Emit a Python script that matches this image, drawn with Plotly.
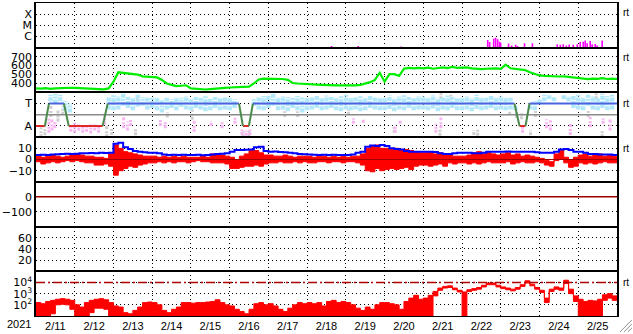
import pandas as pd
import plotly.graph_objects as go
from plotly.subplots import make_subplots

START = pd.Timestamp("2021-02-11")
END = pd.Timestamp("2021-02-26")

# ---------------- data (3-hour samples from 2021-02-11 00:00) ----------------
speed = [345, 342, 348, 340, 345, 350, 347, 352,
         350, 348, 345, 340, 338, 332, 335, 345,
         420, 525, 520, 515, 505, 500, 480, 475,
         470, 468, 440, 400, 385, 370, 375, 380,
         345, 340, 335, 333, 338, 340, 345, 350,
         355, 358, 360, 362, 365, 400, 445, 455,
         455, 450, 455, 450, 440, 405, 400, 395,
         395, 392, 388, 385, 380, 378, 378, 380,
         378, 380, 378, 385, 400, 415, 440, 520,
         420, 505, 505, 485, 565, 575, 570, 575,
         570, 578, 565, 575, 580, 572, 585, 575,
         575, 580, 570, 565, 560, 565, 568, 570,
         563, 610, 570, 565, 562, 550, 525, 508,
         490, 485, 480, 482, 478, 480, 475, 470,
         465, 458, 448, 455, 452, 460, 450, 455, 450]

bt = [4.0, 4.2, 4.0, 4.5, 4.8, 5.0, 5.2, 5.0,
      5.2, 5.5, 5.5, 5.8, 5.5, 6.0, 5.8, 6.0,
      14, 15, 11, 9.5, 7.5, 7, 6.5, 6,
      6, 5.5, 4.5, 4, 4.2, 4, 4.3, 4,
      4, 4.2, 3.8, 4, 4.5, 5, 5.2, 5.5,
      7, 8.4, 8.5, 8.8, 9, 11, 11.4, 7.5,
      7, 7.2, 6.8, 6.5, 6, 5.5, 5, 4.8,
      4.5, 4.2, 4, 4.3, 4, 4.2, 4, 4.1,
      4, 4.5, 6, 7, 11.5, 12.5, 12, 13,
      12, 10, 9.5, 9, 7.5, 7, 7, 7,
      7, 7, 6.8, 5.5, 5, 5, 5.5, 6,
      6, 6, 5.5, 5.5, 6, 7, 7, 7,
      7, 7.2, 7, 7, 7, 7, 7, 6.5,
      6, 6, 6, 7, 9, 9.3, 8.5, 7,
      7, 6, 5, 5, 4.5, 4.5, 4.5, 4, 4]

bz_hi = [3, 2, 3, 4, 3, 2, 3, 4,
         5, 4, 3, 3, 2, 2, 1, 5,
         13, 10, 7, 6, 5, 4, 3, 3,
         3, 2, 3, 2, 3, 2, 3, 2,
         2, 2, 3, 2, 5, 5, 4, 3,
         2, 0, 3, 5, 8, 8, 6, 4,
         4, 3, 3, 4, 3, 2, 3, 3,
         3, 2, 3, 3, 2, 3, 2, 3,
         2, 3, 3, 5, 10, 12, 13, 10,
         10, 9, 10, 8, 9, 8, 7, 6,
         6, 7, 5, 6, 5, 4, 3, 3,
         3, 4, 6, 7, 5, 6, 5, 4,
         5, 6, 4, 5, 3, 4, 3, 2,
         1, -1, -2, 5, 8, 2, 0, 2,
         4, 5, 3, 4, 5, 3, 4, 3]
bz_lo = [-2, -4, -3, -2, -3, -2, -1, -2,
         -1, -2, -3, -3, -5, -5, -4, -6,
         -14, -10, -8, -6, -7, -5, -4, -3,
         -3, -2, -3, -2, -3, -2, -2, -3,
         -2, -1, -2, -2, -3, -3, -3, -4,
         -8, -8, -7, -6, -6, -5, -6, -4,
         -3, -3, -2, -3, -3, -2, -3, -2,
         -3, -3, -2, -2, -3, -2, -2, -3,
         -2, -2, -3, -5, -10, -11, -8, -10,
         -9, -8, -9, -8, -7, -9, -6, -5,
         -5, -6, -5, -4, -6, -3, -4, -3,
         -3, -4, -3, -4, -3, -2, -3, -3,
         -3, -2, -4, -3, -2, -3, -3, -2,
         -3, -5, -6, -1, 0, -3, -7, -6,
         -3, -4, -3, -4, -3, -2, -3, -3]

# electron flux, log10 upper / lower envelope per 3 h
e_hi_log = [2.2, 2.1, 2.3, 2.4, 2.5, 2.55, 2.5, 2.4,
            2.0, 1.8, 2.2, 2.4, 2.5, 2.55, 2.45, 2.2,
            1.9, 1.8, 1.3, 1.2, 1.5, 1.8, 2.2, 2.25,
            2.2, 2.0, 1.5, 1.3, 1.6, 1.8, 2.2, 2.2,
            2.15, 2.2, 2.2, 2.25, 2.3, 2.45, 2.2, 2.0,
            1.9, 1.6, 1.4, 1.2, 1.6, 2.1, 2.2, 2.0,
            2.1, 1.9, 1.6, 1.4, 1.7, 2.0, 2.2, 2.1,
            2.2, 2.1, 2.2, 1.9, 2.3, 2.4, 2.2, 2.3,
            2.2, 2.0, 1.7, 1.5, 1.8, 1.6, 2.0, 2.2,
            2.2, 2.1, 2.0, 1.6, 2.3, 2.6, 2.85, 2.5,
            2.6, 2.85, 3.2, 3.5, 3.65, 3.7, 3.5, 3.3,
            3.15, 3.35, 3.45, 3.55, 3.75, 3.95, 3.95, 3.75,
            3.6, 3.5, 3.4, 3.55, 3.8, 4.15, 3.85, 3.55,
            3.3, 2.6, 3.4, 3.6, 3.5, 4.2, 3.4, 2.8,
            2.5, 2.3, 2.4, 2.35, 2.5, 2.9, 3.0, 2.8]
e_lo_log = [0.5, 0.5, 0.5, 1.2, 2.0, 2.05, 2.0, 1.6,
            0.5, 0.5, 0.5, 1.3, 1.7, 1.7, 1.6, 0.5,
            0.5, 0.5, 0.5, 0.5, 0.5, 0.5, 0.5, 0.5,
            0.5, 0.5, 0.5, 0.5, 0.5, 0.5, 0.5, 0.5,
            0.5, 0.5, 0.5, 0.5, 0.5, 0.5, 0.5, 0.5,
            0.5, 0.5, 0.5, 0.5, 0.5, 0.5, 0.5, 0.5,
            0.5, 0.5, 0.5, 0.5, 0.5, 0.5, 0.5, 0.5,
            0.5, 0.5, 0.5, 0.5, 0.5, 0.5, 0.5, 0.5,
            0.5, 0.5, 0.5, 0.5, 0.5, 0.5, 0.5, 0.5,
            0.5, 0.5, 0.5, 0.5, 0.5, 0.5, 0.5, 0.5,
            0.5, 0.5, 2.8, 3.3, 3.5, 3.55, 3.35, 3.15,
            0.5, 3.2, 3.3, 3.4, 3.6, 3.8, 3.8, 3.6,
            3.45, 3.35, 3.25, 3.4, 3.65, 3.95, 3.7, 3.4,
            3.1, 2.2, 3.2, 3.4, 3.3, 3.9, 3.0, 2.3,
            0.5, 0.5, 0.5, 0.5, 0.5, 2.4, 2.6, 2.4]

# IMF azimuth scatter (light blue: toward-side samples), range per 3 h
N = None
lb_lo = [N, N, N, 0.8, 0.75, 0.8, 0.6, 0.55,
         N, N, N, N, N, N, N, 0.62,
         0.6, 0.62, 0.7, 0.65, 0.6, 0.68, 0.7, 0.62,
         0.65, 0.6, 0.55, 0.62, 0.65, 0.6, 0.68, 0.62,
         0.6, 0.65, 0.62, 0.58, 0.6, 0.65, 0.6, 0.62,
         0.6, 0.65, N, N, N, 0.7, 0.62, 0.6,
         0.65, 0.7, 0.6, 0.62, 0.58, 0.65, 0.6, 0.55,
         0.6, 0.62, 0.65, 0.6, 0.62, 0.65, 0.6, 0.58,
         0.62, 0.6, 0.62, 0.58, 0.6, 0.65, 0.62, 0.6,
         0.6, 0.63, 0.58, 0.62, 0.6, 0.65, 0.6, 0.62,
         0.62, 0.6, 0.64, 0.58, 0.62, 0.6, 0.65, 0.6,
         0.6, 0.62, 0.58, 0.63, 0.6, 0.62, 0.65, 0.6,
         0.62, 0.6, 0.62, 0.6, N, N, 0.62, 0.6,
         0.75, 0.8, 0.85, 0.8, N, 0.85, 0.8, 0.65,
         0.62, 0.6, 0.7, 0.62, 0.6, 0.65, 0.6, 0.62]
lb_hi = [N, N, N, 0.95, 0.97, 0.95, 0.8, 0.75,
         N, N, N, N, N, N, N, 0.9,
         0.95, 0.92, 0.97, 0.9, 0.88, 0.95, 0.9, 0.88,
         0.88, 0.9, 0.85, 0.88, 0.85, 0.9, 0.88, 0.92,
         0.85, 0.9, 0.88, 0.92, 0.86, 0.9, 0.88, 0.9,
         0.9, 0.85, N, N, N, 0.85, 0.9, 0.92,
         0.95, 0.97, 0.9, 0.92, 0.9, 0.88, 0.92, 0.9,
         0.88, 0.9, 0.92, 0.88, 0.93, 0.9, 0.88, 0.92,
         0.95, 0.88, 0.9, 0.92, 0.88, 0.92, 0.9, 0.88,
         0.9, 0.93, 0.88, 0.92, 0.95, 0.9, 0.88, 0.92,
         0.92, 0.9, 0.95, 0.88, 0.9, 0.93, 0.9, 0.88,
         0.9, 0.92, 0.88, 0.95, 0.9, 0.88, 0.92, 0.9,
         0.92, 0.9, 0.88, 0.72, N, N, 0.75, 0.8,
         0.85, 0.95, 0.95, 0.9, N, 0.95, 0.92, 0.95,
         0.95, 0.9, 0.95, 0.92, 0.9, 0.97, 0.92, 0.95]

# pink / grey scatter clusters: hour since start, low, high
pink_h = [8.0, 9.9, 11.7, 21.6, 24.0, 26.5, 29.0, 31.4, 33.9, 36.4, 38.8, 42.5,
          54.3, 56.7, 58.6, 77.1, 80.1, 98.0, 108.5, 115.3, 123.3, 127.6, 130.1, 132.5,
          196.7, 202.8, 222.6, 225.6, 247.8, 250.9, 301.5, 316.3, 318.7, 331.1, 343.4,
          351.4, 355.7]
pink_lo = [0.1, 0.15, 0.2, 0.12, 0.1, 0.15, 0.1, 0.12, 0.08, 0.15, 0.1, 0.28,
           0.2, 0.15, 0.25, 0.25, 0.2, 0.12, 0.25, 0.2, 0.3, 0.05, 0.03, 0.05,
           0.3, 0.32, 0.1, 0.3, 0.1, 0.2, 0.1, 0.2, 0.15, 0.05, 0.22, 0.3, 0.15]
pink_hi = [0.45, 0.4, 0.35, 0.3, 0.32, 0.28, 0.25, 0.3, 0.28, 0.3, 0.25, 0.54,
           0.45, 0.35, 0.4, 0.42, 0.35, 0.38, 0.35, 0.38, 0.45, 0.17, 0.15, 0.17,
           0.42, 0.4, 0.28, 0.38, 0.3, 0.44, 0.24, 0.4, 0.38, 0.3, 0.45, 0.42, 0.4]

grey_h = [3.1, 5.5, 9.2, 13.6, 16.6, 43.8, 46.9, 61.7, 62.9, 81.4, 96.8, 128.2,
          131.9, 154.1, 162.1, 193.6, 221.9, 250.9, 257.1, 250.3, 271.3, 273.7,
          293.5, 297.8, 300.9, 306.4, 309.5, 342.2, 347.1, 350.8]
grey_lo = [0.0, 0.04, 0.45, 0.35, 0.5, 0.0, 0.05, 0.04, 0.8, 0.44, 0.39, 0.0,
           0.02, 0.45, 0.45, 0.5, 0.1, 0.85, 0.82, 0.03, 0.05, 0.03,
           0.5, 0.43, 0.4, 0.04, 0.45, 0.45, 0.85, 0.0]
grey_hi = [0.22, 0.27, 0.7, 0.62, 0.7, 0.27, 0.2, 0.2, 0.9, 0.55, 0.61, 0.16,
           0.14, 0.58, 0.58, 0.62, 0.27, 0.98, 0.95, 0.18, 0.15, 0.2,
           0.58, 0.6, 0.55, 0.15, 0.6, 0.6, 0.98, 0.15]

# IMF sector polarity (hours since start)
sector_h = [0, 5.5, 8.0, 17.3, 20.3, 41.3, 44.4, 125.8, 128.2, 131.9, 134.4,
            296.5, 299.6, 303.3, 305.8, 360]
sector_pol = ["A", "A", "T", "T", "A", "A", "T", "T", "A", "A", "T", "T",
              "A", "A", "T", "T"]

# X-ray flux events (hour since start, W/m2)
xr_h = [183.1, 199.7, 226.3, 279.9, 281.1, 283.6, 284.8, 286.1, 287.3, 287.9,
        292.8, 294.7, 297.2, 298.4, 302.7, 307.6, 323.0, 324.9, 326.7, 328.6,
        330.4, 332.9, 335.4, 337.2, 339.1, 340.3, 341.5, 343.4, 344.6, 346.5,
        347.7, 350.8]
xr_flux = [1.4e-7, 1.4e-7, 1.26e-7, 5.0e-7, 3.2e-7, 6.3e-7, 7.9e-7, 5.6e-7,
           3.5e-7, 2.8e-7, 2.4e-7, 1.6e-7, 1.8e-7, 1.4e-7, 2.5e-7, 2.5e-7,
           2.0e-7, 1.8e-7, 2.0e-7, 1.6e-7, 1.9e-7, 1.8e-7, 2.0e-7, 3.2e-7,
           3.5e-7, 4.5e-7, 2.5e-7, 4.0e-7, 2.0e-7, 2.2e-7, 1.6e-7, 4.5e-7]

# ---------------- helpers ----------------
t3 = list(pd.date_range(START, periods=121, freq="3h"))


def hrs(h):
    return START + pd.Timedelta(hours=h)


def vsegs(times, lo, hi):
    xs, ys = [], []
    for t, a, b in zip(times, lo, hi):
        if a is None or b is None:
            continue
        xs += [t, t, None]
        ys += [a, b, None]
    return xs, ys


fig = make_subplots(rows=7, cols=1, shared_xaxes=True, vertical_spacing=0)

# Panel 1: X-ray
xs, ys = vsegs([hrs(h) for h in xr_h], [1e-7] * len(xr_h), xr_flux)
fig.add_trace(go.Scatter(x=xs, y=ys, mode="lines", line=dict(color="#ff00ff", width=1.6)),
              row=1, col=1)

# Panel 2: speed
fig.add_trace(go.Scatter(x=t3, y=speed, mode="lines", line=dict(color="#00ee00", width=2.2)),
              row=2, col=1)

# Panel 3: IMF sector
xs, ys = vsegs([hrs(h) for h in grey_h], grey_lo, grey_hi)
fig.add_trace(go.Scatter(x=xs, y=ys, mode="lines",
                         line=dict(color="#cfcfcf", width=3, dash="3px,1px,2px,2px")), row=3, col=1)
xs, ys = vsegs([hrs(h) for h in pink_h], pink_lo, pink_hi)
fig.add_trace(go.Scatter(x=xs, y=ys, mode="lines",
                         line=dict(color="#f7b6f2", width=3, dash="3px,1px,2px,2px")), row=3, col=1)
xs, ys = vsegs(t3[:120], lb_lo, lb_hi)
fig.add_trace(go.Scatter(x=xs, y=ys, mode="lines",
                         line=dict(color="#b3e8fa", width=4.5, dash="4px,1px,2px,1px")), row=3, col=1)
fig.add_trace(go.Scatter(x=[START, END], y=[0.5, 0.5], mode="lines",
                         line=dict(color="#8a8a8a", width=1.5)), row=3, col=1)
lvl = {"T": 0.75, "A": 0.25}
seg = {"#4a64e0": ([], []), "#e02828": ([], []), "#4a8a4a": ([], [])}
for i in range(len(sector_h) - 1):
    a, b = sector_pol[i], sector_pol[i + 1]
    c = "#4a64e0" if a == b == "T" else ("#e02828" if a == b == "A" else "#4a8a4a")
    seg[c][0].extend([hrs(sector_h[i]), hrs(sector_h[i + 1]), None])
    seg[c][1].extend([lvl[a], lvl[b], None])
for c, (sx, sy) in seg.items():
    fig.add_trace(go.Scatter(x=sx, y=sy, mode="lines", line=dict(color=c, width=2)), row=3, col=1)

# Panel 4: Bz (red band) / Bt (blue)
bx = t3[:120] + [END]
fig.add_trace(go.Scatter(x=bx, y=bz_lo + [bz_lo[-1]], mode="lines",
                         line=dict(color="#ff0000", width=1, shape="hv")), row=4, col=1)
fig.add_trace(go.Scatter(x=bx, y=bz_hi + [bz_hi[-1]], mode="lines", fill="tonexty",
                         fillcolor="#ff0000", line=dict(color="#ff0000", width=1, shape="hv")),
              row=4, col=1)
fig.add_trace(go.Scatter(x=t3, y=bt, mode="lines", line=dict(color="#0000ff", width=2, shape="hv")),
              row=4, col=1)
fig.add_trace(go.Scatter(x=[START, END], y=[0, 0], mode="lines",
                         line=dict(color="#a00000", width=1)), row=4, col=1)

# Panel 5: reference zero line
fig.add_trace(go.Scatter(x=[START, END], y=[0, 0], mode="lines",
                         line=dict(color="#a00000", width=1.5)), row=5, col=1)

# Panel 6: empty (axis holder)
fig.add_trace(go.Scatter(x=[START, END], y=[None, None], mode="lines",
                         line=dict(color="rgba(0,0,0,0)")), row=6, col=1)

# Panel 7: electron flux
ex = t3[:120] + [END]
elo = [10 ** v for v in e_lo_log] + [10 ** e_lo_log[-1]]
ehi = [10 ** v for v in e_hi_log] + [10 ** e_hi_log[-1]]
fig.add_trace(go.Scatter(x=ex, y=elo, mode="lines", line=dict(color="#ff0000", width=1, shape="hv")),
              row=7, col=1)
fig.add_trace(go.Scatter(x=ex, y=ehi, mode="lines", fill="tonexty", fillcolor="#ff0000",
                         line=dict(color="#ff0000", width=1, shape="hv")), row=7, col=1)
fig.add_trace(go.Scatter(x=[START, END], y=[1e4, 1e4], mode="lines",
                         line=dict(color="#b00000", width=1.5, dash="9px,3px,2px,3px")), row=7, col=1)

# ---------------- axes ----------------
GRID = dict(showgrid=True, gridcolor="black", gridwidth=1, griddash="1px,3px")
FONT = dict(family="Liberation Sans, Arial, sans-serif", size=12, color="black")
YFONT = dict(family="DejaVu Sans, sans-serif", size=11, color="black")
for r in range(1, 8):
    fig.update_xaxes(row=r, col=1, type="date", range=[START, END], dtick=86400000, tick0=START,
                     ticklabelmode="period", tickformat="%-m/%d", ticks="", zeroline=False,
                     showline=True, linecolor="black", linewidth=1, mirror=True,
                     showticklabels=(r == 7), tickfont=dict(FONT, size=11), **GRID)

ycfg = {
    1: dict(type="log", range=[-7, -3], tickvals=[1e-6, 1e-5, 1e-4], ticktext=["C", "M", "X"]),
    2: dict(range=[300, 800], tickvals=[400, 500, 600, 700]),
    3: dict(range=[0, 1], tickvals=[0.25, 0.75], ticktext=["A", "T"]),
    4: dict(range=[-20, 20], tickvals=[-10, 0, 10]),
    5: dict(range=[-200, 100], tickvals=[-100, 0]),
    6: dict(range=[0, 80], tickvals=[20, 40, 60]),
    7: dict(type="log", range=[1, 5], tickvals=[1e2, 1e3, 1e4],
            ticktext=["10<sup>2</sup>", "10<sup>3</sup>", "10<sup>4</sup>"]),
}
for r, c in ycfg.items():
    fig.update_yaxes(row=r, col=1, ticks="", zeroline=False, showline=True, linecolor="black",
                     linewidth=1.5, mirror=True, tickfont=YFONT, fixedrange=True, **GRID, **c)

# ---------------- annotations ----------------
W, H, L, T, R, B = 633, 334, 33, 2, 16, 17
pw, ph = W - L - R, H - T - B


def px(x):
    return (x - L) / pw


def py(y):
    return (H - B - y) / ph


ann = [dict(text="2021", x=px(16), y=py(325), xref="paper", yref="paper", showarrow=False,
            xanchor="center", yanchor="middle", font=dict(FONT, size=11))]
for yy in [12, 57, 103, 148, 283]:
    ann.append(dict(text="rt", x=px(621), y=py(yy), xref="paper", yref="paper", showarrow=False,
                    xanchor="left", yanchor="middle", font=dict(FONT, size=10)))

shapes = []
for k in range(3):
    shapes.append(dict(type="line", xref="paper", yref="paper", x0=px(620 + 4 * k), y0=py(333),
                       x1=px(632), y1=py(321 + 4 * k), line=dict(color="#909090", width=1)))

fig.update_layout(width=W, height=H, margin=dict(l=L, r=R, t=T, b=B), showlegend=False,
                  plot_bgcolor="white", paper_bgcolor="white", annotations=ann, shapes=shapes,
                  hovermode=False, font=FONT)
fig.write_html("out.html", config={"displayModeBar": False})
